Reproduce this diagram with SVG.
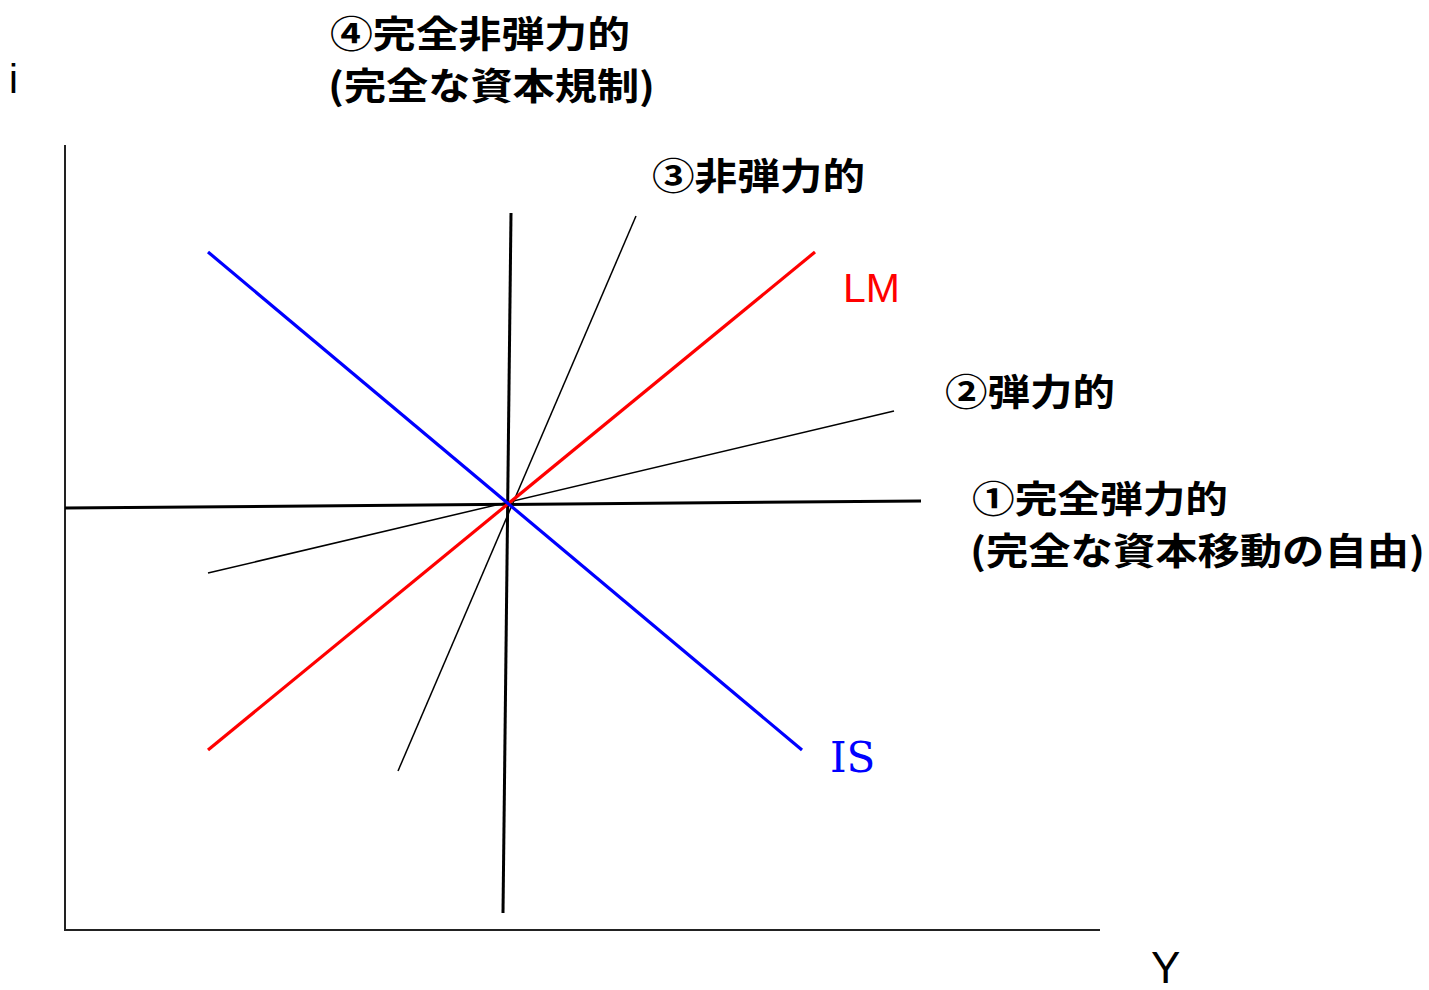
<svg xmlns="http://www.w3.org/2000/svg" width="1429" height="990" viewBox="0 0 1429 990">
<style>
.jp{font-family:"Noto Sans CJK JP","Noto Sans",sans-serif;font-weight:bold;font-size:37px;fill:#000}
.ax{stroke:#222;stroke-width:2;fill:none}
.thick{stroke:#000;stroke-width:3;fill:none}
.thin{stroke:#000;stroke-width:1.5;fill:none}
</style>
<rect width="1429" height="990" fill="#fff"/>
<g id="axes">
<polyline class="ax" points="65,145 65,930 1100,930"/>
<text x="9" y="93" font-family="Liberation Sans, sans-serif" font-size="40" fill="#000">i</text>
<text x="1151" y="983" font-family="Liberation Sans, sans-serif" font-size="44" fill="#000">Y</text>
</g>
<g id="connectors">
<line id="c1" class="thick" x1="65" y1="508" x2="921" y2="501"/>
<line id="c4" class="thick" x1="511" y1="213" x2="503" y2="913"/>
<line id="c3" class="thin" x1="636" y1="216" x2="398" y2="771"/>
<line id="c2" class="thin" x1="894" y1="411" x2="208" y2="573"/>
<line id="lm" stroke="#f00" stroke-width="3.2" x1="208" y1="750" x2="815" y2="252"/>
<line id="is" stroke="#00f" stroke-width="3.2" x1="208" y1="252" x2="802" y2="750"/>
</g>
<g id="label4">
<text class="jp" x="330" y="48" textLength="300" lengthAdjust="spacingAndGlyphs">④完全非弾力的</text>
<text class="jp" x="328" y="100" textLength="327" lengthAdjust="spacingAndGlyphs">(完全な資本規制)</text>
</g>
<g id="label3"><text class="jp" x="652" y="190" textLength="213" lengthAdjust="spacingAndGlyphs">③非弾力的</text></g>
<g id="labelLM"><text x="843" y="302" font-family="Liberation Sans, sans-serif" font-size="41" fill="#f00">LM</text></g>
<g id="label2"><text class="jp" x="945" y="406" textLength="170" lengthAdjust="spacingAndGlyphs">②弾力的</text></g>
<g id="label1">
<text class="jp" x="972" y="513" textLength="256" lengthAdjust="spacingAndGlyphs">①完全弾力的</text>
<text class="jp" x="970" y="565" textLength="455" lengthAdjust="spacingAndGlyphs">(完全な資本移動の自由)</text>
</g>
<g id="labelIS"><text x="830" y="772" font-family="DejaVu Serif, serif" font-size="42" fill="#00f">IS</text></g>
</svg>
